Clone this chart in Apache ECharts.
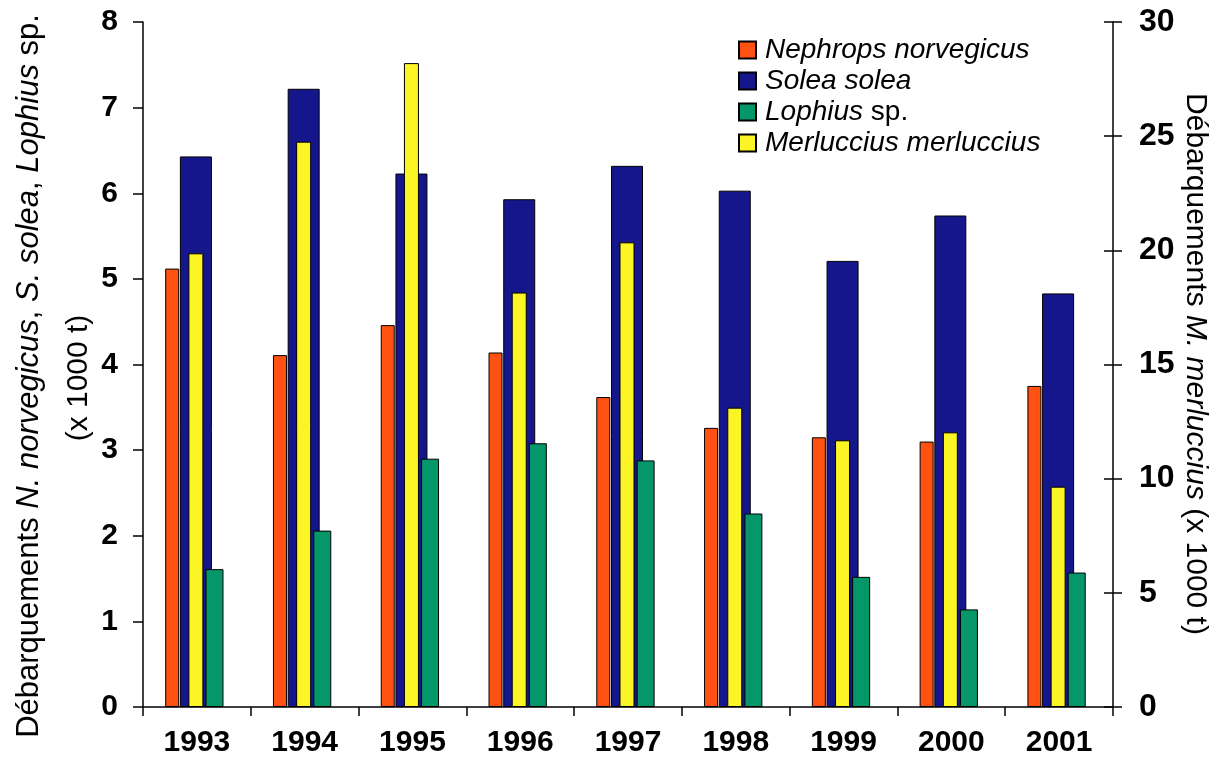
<!DOCTYPE html>
<html>
<head>
<meta charset="utf-8">
<script src="https://cdn.jsdelivr.net/npm/echarts@6/dist/echarts.min.js"></script>
<style>
  html, body { margin: 0; padding: 0; background: #ffffff; }
  #chart { width: 1219px; height: 771px; }
</style>
</head>
<body>
<div id="chart"></div>
<script>
// ---- data ----
const years = ['1993', '1994', '1995', '1996', '1997', '1998', '1999', '2000', '2001'];
// left axis, x 1000 t
const nephrops = [5.12, 4.11, 4.46, 4.14, 3.62, 3.26, 3.15, 3.10, 3.75];
const solea    = [6.43, 7.22, 6.23, 5.93, 6.32, 6.03, 5.21, 5.74, 4.83];
const lophius  = [1.61, 2.06, 2.90, 3.08, 2.88, 2.26, 1.52, 1.14, 1.57];
// right axis, x 1000 t
const merluccius = [19.87, 24.76, 28.2, 18.15, 20.35, 13.11, 11.68, 12.03, 9.65];
const leftTicks = { min: 0, max: 8, interval: 1 };
const rightTicks = { min: 0, max: 30, interval: 5 };

const FONT = '"Liberation Sans", Arial, sans-serif';
const C_NEPH = '#ff5212';
const C_SOLEA = '#16168c';
const C_LOPH = '#05966a';
const C_MERL = '#fcf525';

const G = { left: 143, right: 106, top: 22, bottom: 64 };
const shiftOrange = -24.7;
const shiftGreen = 17.6;
const shiftMid = -1;

function grid(dx) {
  return { left: G.left + dx, right: G.right - dx, top: G.top, bottom: G.bottom, containLabel: false };
}
function hiddenX(gi) {
  return { type: 'category', data: years, gridIndex: gi, show: false };
}
function hiddenY(gi, t) {
  return { type: 'value', gridIndex: gi, min: t.min, max: t.max, interval: t.interval, show: false, splitLine: { show: false } };
}

const chart = echarts.init(document.getElementById('chart'), null, { renderer: 'canvas' });

const axisLineStyle = { color: '#000', width: 1.5 };
const tickLabel = { color: '#000', fontFamily: FONT, fontWeight: 'bold', fontSize: 30 };

const option = {
  backgroundColor: '#ffffff',
  animation: false,
  textStyle: { fontFamily: FONT },
  // 0: visible axes, 1: Solea, 2: Nephrops, 3: Lophius, 4: Merluccius
  grid: [grid(0), grid(shiftMid), grid(shiftOrange), grid(shiftGreen), grid(shiftMid)],
  xAxis: [
    {
      type: 'category', data: years, gridIndex: 0,
      axisLine: { lineStyle: axisLineStyle },
      axisTick: { show: true, length: 9, lineStyle: { color: '#000', width: 1.5 } },
      axisLabel: Object.assign({ margin: 21 }, tickLabel)
    },
    hiddenX(1), hiddenX(2), hiddenX(3), hiddenX(4)
  ],
  yAxis: [
    {
      type: 'value', gridIndex: 0, position: 'left',
      min: leftTicks.min, max: leftTicks.max, interval: leftTicks.interval,
      axisLine: { show: true, lineStyle: axisLineStyle },
      axisTick: { show: true, length: 10, lineStyle: { color: '#000', width: 1.5 } },
      axisLabel: Object.assign({ margin: 25 }, tickLabel),
      splitLine: { show: false }
    },
    {
      type: 'value', gridIndex: 0, position: 'right',
      min: rightTicks.min, max: rightTicks.max, interval: rightTicks.interval,
      axisLine: { show: true, lineStyle: axisLineStyle },
      axisTick: { show: true, length: 9, lineStyle: { color: '#000', width: 1.5 } },
      axisLabel: Object.assign({ margin: 26 }, tickLabel, { fontSize: 32 }),
      splitLine: { show: false }
    },
    {
      // inner half of the crossing ticks on the right axis
      type: 'value', gridIndex: 0, position: 'right',
      min: rightTicks.min, max: rightTicks.max, interval: rightTicks.interval,
      axisLine: { show: false },
      axisTick: { show: true, inside: true, length: 9, lineStyle: { color: '#000', width: 1.5 } },
      axisLabel: { show: false },
      splitLine: { show: false }
    },
    hiddenY(1, leftTicks), hiddenY(2, leftTicks), hiddenY(3, leftTicks), hiddenY(4, rightTicks)
  ],
  legend: {
    orient: 'vertical',
    left: 733, top: 31,
    itemWidth: 17, itemHeight: 17, itemGap: 3,
    icon: 'rect',
    data: ['Nephrops norvegicus', 'Solea solea', 'Lophius sp.', 'Merluccius merluccius'],
    formatter: function (n) {
      if (n === 'Lophius sp.') return '{i|Lophius} sp.';
      return '{i|' + n + '}';
    },
    textStyle: {
      color: '#000', fontFamily: FONT, fontSize: 28, lineHeight: 28, padding: [0, 0, 0, 4],
      rich: { i: { fontStyle: 'italic', fontFamily: FONT, fontSize: 28, color: '#000' } }
    }
  },
  series: [
    {
      name: 'Solea solea', type: 'bar', xAxisIndex: 1, yAxisIndex: 3,
      data: solea, barWidth: 32, z: 2,
      itemStyle: { color: C_SOLEA, borderColor: '#000', borderWidth: 1 }
    },
    {
      name: 'Nephrops norvegicus', type: 'bar', xAxisIndex: 2, yAxisIndex: 4,
      data: nephrops, barWidth: 14, z: 3,
      itemStyle: { color: C_NEPH, borderColor: '#000', borderWidth: 1 }
    },
    {
      name: 'Merluccius merluccius', type: 'bar', xAxisIndex: 4, yAxisIndex: 6,
      data: merluccius, barWidth: 15, z: 4,
      itemStyle: { color: C_MERL, borderColor: '#000', borderWidth: 1 }
    },
    {
      name: 'Lophius sp.', type: 'bar', xAxisIndex: 3, yAxisIndex: 5,
      data: lophius, barWidth: 18, z: 5,
      itemStyle: { color: C_LOPH, borderColor: '#000', borderWidth: 1 }
    }
  ],
  graphic: [
    {
      type: 'text', x: 29, y: 376, rotation: Math.PI / 2, silent: true,
      style: {
        text: '{n|Débarquements }{i|N. norvegicus}{n|, }{i|S. solea}{n|, }{i|Lophius}{n| sp.}',
        align: 'center', verticalAlign: 'middle',
        fontFamily: FONT, fontSize: 31, fill: '#000',
        rich: {
          n: { fontFamily: FONT, fontSize: 31, fill: '#000', color: '#000' },
          i: { fontFamily: FONT, fontSize: 31, fontStyle: 'italic', fill: '#000', color: '#000' }
        }
      }
    },
    {
      type: 'text', x: 79, y: 378, rotation: Math.PI / 2, silent: true,
      style: {
        text: '(x 1000 t)', align: 'center', verticalAlign: 'middle',
        fontFamily: FONT, fontSize: 30, fill: '#000'
      }
    },
    {
      type: 'text', x: 1195, y: 364, rotation: -Math.PI / 2, silent: true,
      style: {
        text: '{n|Débarquements }{i|M. merluccius}{n| (x 1000 t)}',
        align: 'center', verticalAlign: 'middle',
        fontFamily: FONT, fontSize: 30, fill: '#000',
        rich: {
          n: { fontFamily: FONT, fontSize: 30, fill: '#000', color: '#000' },
          i: { fontFamily: FONT, fontSize: 30, fontStyle: 'italic', fill: '#000', color: '#000' }
        }
      }
    }
  ]
};
chart.setOption(option);
</script>
</body>
</html>
